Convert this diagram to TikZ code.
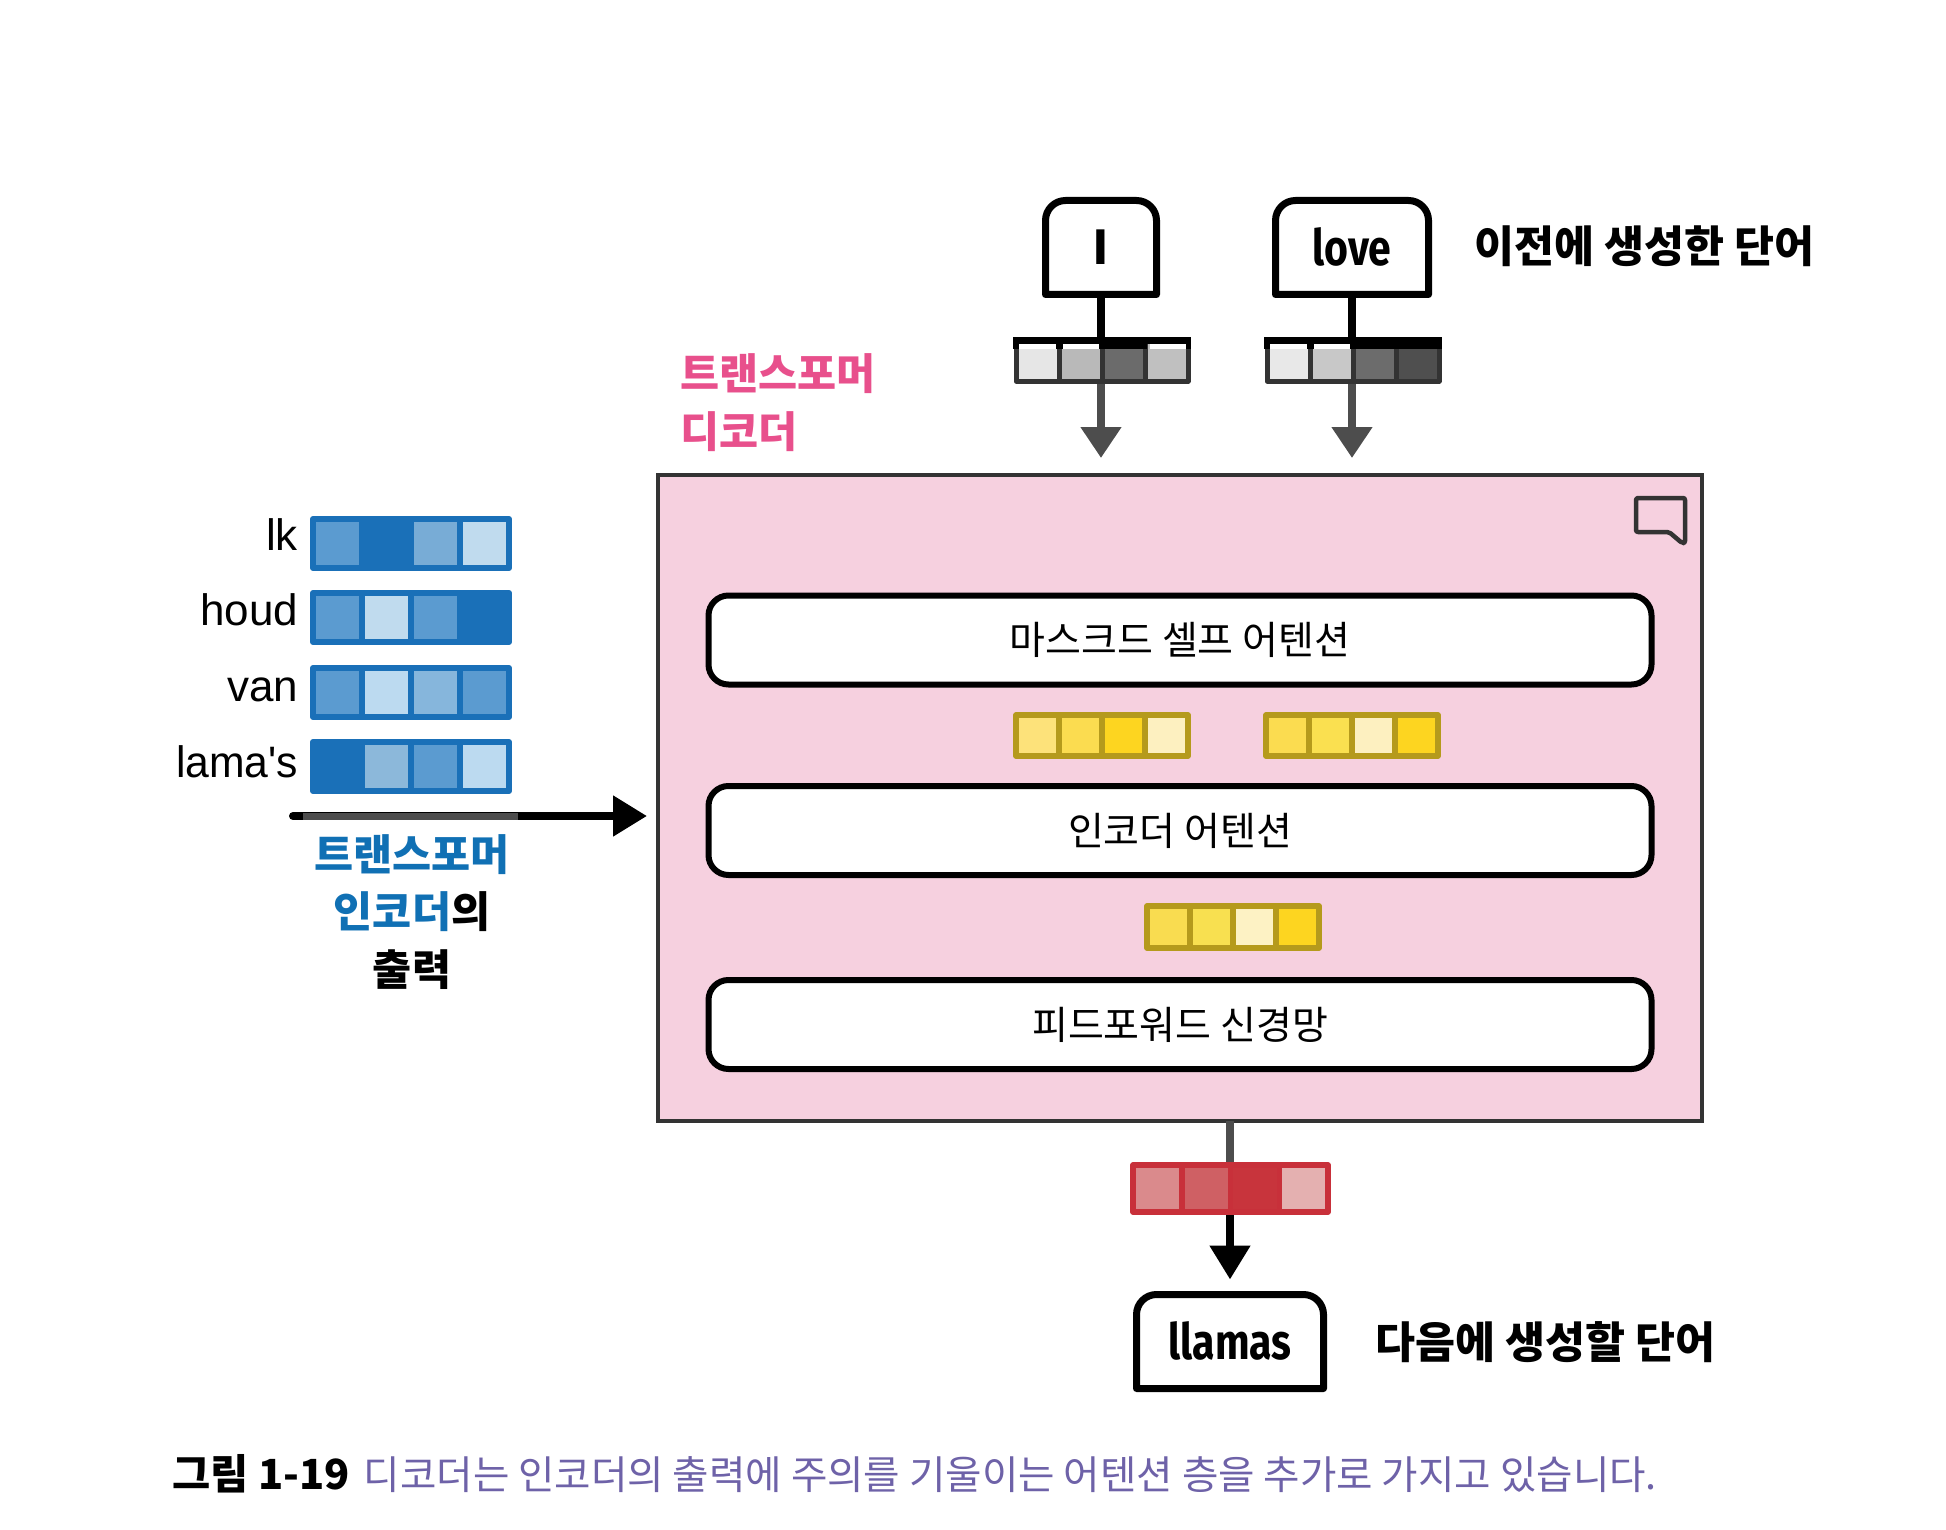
\documentclass[tikz,border=0pt]{standalone}
\usepackage{fontspec}
\usepackage{graphicx}
\usetikzlibrary{arrows.meta}
\setmainfont{Liberation Sans}
\newfontfamily\srcfont{Liberation Sans}
\newfontfamily\kr{Noto Sans CJK KR}
\newfontfamily\firab{Fira Sans}
\newcommand{\fs}[2]{\fontsize{#1pt}{#2pt}\selectfont}
\definecolor{bluebd}{HTML}{1A70B8}
\definecolor{bluetx}{HTML}{1070B4}
\definecolor{pinktx}{HTML}{E8508C}
\definecolor{pinkbg}{HTML}{F6D0DF}
\definecolor{purpletx}{HTML}{6E62A8}
\definecolor{yelbd}{HTML}{B59A1C}
\definecolor{redbd}{HTML}{C8303A}
\definecolor{graybd}{HTML}{333333}
\definecolor{arrowgray}{HTML}{4D4D4D}
\tikzset{
  cellbox/.style={draw,inner sep=0pt,outer sep=0pt,line join=round},
  wordbox/.style={inner sep=0pt,outer sep=0pt},
  wordline/.style={line width=7pt,black,line join=round},
  layerbox/.style={draw=black,fill=white,line width=6pt,rounded corners=20pt,inner sep=0pt,outer sep=0pt,minimum width=943pt,minimum height=89pt,font={\kr\fs{39}{39}}},
  boldlabel/.style={inner sep=0pt,outer sep=0pt,font={\kr\bfseries\fs{43.5}{43.5}}},
  multilabel/.style={inner sep=0pt,outer sep=0pt,font={\kr\bfseries\fs{42.5}{57.5}}},
  srclabel/.style={anchor=base east,inner sep=0pt,outer sep=0pt,font={\srcfont\fs{44}{44}}},
  grayconn/.style={line width=8pt,arrowgray,-{Triangle[width=39pt,length=31pt]}},
  blackconn/.style={line width=8pt,black},
  blackarrow/.style={line width=8pt,black,-{Triangle[width=39pt,length=34pt]}}
}
% name, x1, x2, y1, y2, border, line width, fills a/b/c/d (edges given as centre lines)
\newcommand{\vecrow}[8]{%
  \pgfmathsetmacro{\cw}{(#3-#2)/4}%
  \pgfmathsetmacro{\ch}{#5-#4}%
  \pgfmathsetmacro{\cy}{(#4+#5)/2}%
  \pgfmathsetmacro{\cxa}{#2+0.5*\cw}%
  \pgfmathsetmacro{\cxb}{#2+1.5*\cw}%
  \pgfmathsetmacro{\cxc}{#2+2.5*\cw}%
  \pgfmathsetmacro{\cxd}{#2+3.5*\cw}%
  \vecparse{#1}{#6}{#7}#8\relax
}
\def\vecparse#1#2#3#4/#5/#6/#7\relax{%
  \definecolor{#1fa}{HTML}{#4}\definecolor{#1fb}{HTML}{#5}\definecolor{#1fc}{HTML}{#6}\definecolor{#1fd}{HTML}{#7}%
  \tikzset{thiscell/.style={cellbox,draw=#2,line width=#3pt,minimum width=\cw pt,minimum height=\ch pt}}%
  \node[thiscell,fill=#1fa] (#1a) at (\cxa,\cy) {};%
  \node[thiscell,fill=#1fb] (#1b) at (\cxb,\cy) {};%
  \node[thiscell,fill=#1fc] (#1c) at (\cxc,\cy) {};%
  \node[thiscell,fill=#1fd] (#1d) at (\cxd,\cy) {};%
}
\begin{document}
\begin{tikzpicture}[x=1pt,y=-1pt]
\useasboundingbox (0,0) rectangle (1946,1530);
\fill[white] (0,0) rectangle (1946,1530);

% main decoder panel
\node[draw=graybd,fill=pinkbg,line width=4pt,inner sep=0pt,outer sep=0pt,minimum width=1044pt,minimum height=646pt] (panel) at (1180,798) {};

% word boxes
\node[wordbox,minimum width=111pt,minimum height=94pt] (wi) at (1101,247.5) {};
\node[wordbox,minimum width=153pt,minimum height=94pt] (wlove) at (1352,247.5) {};
\node[wordbox,minimum width=187pt,minimum height=94pt] (wllamas) at (1230,1341.5) {};

\foreach \b in {wi,wlove,wllamas}{
  \draw[wordline,rounded corners=20pt] (\b.south west) -- (\b.north west) -- (\b.north east) [sharp corners] -- (\b.south east) -- cycle;
}
\node[inner sep=0pt,font={\firab\bfseries\fs{50}{50}}] (ti) at (1101,247) {I};
\node[inner sep=0pt,font={\firab\bfseries\fs{50}{50}}] (tl) at (1352,247) {\scalebox{0.82}[1]{love}};
\node[inner sep=0pt,font={\firab\bfseries\fs{50}{50}}] (tll) at (1230,1341) {\scalebox{0.82}[1]{llamas}};

% connectors into the panel
\draw[grayconn,shorten >=17pt] (wi.south) -- (wi.south |- panel.north);
\draw[grayconn,shorten >=17pt] (wlove.south) -- (wlove.south |- panel.north);
\draw[blackconn] (wi.south) -- (1101,345);
\draw[blackconn] (wlove.south) -- (1352,345);

% gray embeddings
\vecrow{vi}{1016}{1188}{341}{381}{graybd}{5}{E6E6E6/B9B9B9/6B6B6B/C0C0C0}
\vecrow{vl}{1267}{1439}{341}{381}{graybd}{5}{E8E8E8/C8C8C8/6C6C6C/4F4F4F}
% darker upper band of the gray embeddings
\fill[black] (1013,337) rectangle (1191,343.5);
\fill[black] (1264,337) rectangle (1442,343.5);
\fill[white] (1018.5,343.5) rectangle (1056,349);
\fill[white] (1062.5,343.5) rectangle (1099,349);
\fill[black] (1099,343.5) rectangle (1147,349);
\fill[white] (1149.5,343.5) rectangle (1185.5,349);
\fill[white] (1269.5,343.5) rectangle (1307,349);
\fill[white] (1313.5,343.5) rectangle (1350,349);
\fill[black] (1350,343.5) rectangle (1442,349);
\fill[black] (1013,343.5) rectangle (1018.5,349);
\fill[black] (1056,343.5) rectangle (1062.5,349);
\fill[black] (1185.5,343.5) rectangle (1191,349);
\fill[black] (1264,343.5) rectangle (1269.5,349);
\fill[black] (1307,343.5) rectangle (1313.5,349);

% source sentence
\vecrow{sa}{313}{509}{519}{568}{bluebd}{6}{5B9BD0/1A70B8/78ACD6/C0DBEE}
\vecrow{sb}{313}{509}{593}{642}{bluebd}{6}{5B9BD0/C0DBEE/5B9BD0/1A70B8}
\vecrow{sc}{313}{509}{668}{717}{bluebd}{6}{5B9BD0/BCDAF0/86B6DC/5B9BD0}
\vecrow{sd}{313}{509}{742}{791}{bluebd}{6}{1A70B8/8CB8DA/5B9BD0/BCDAF0}
\node[srclabel] (l1) at (298,550) {lk};
\node[srclabel] (l2) at (298,625) {houd};
\node[srclabel] (l3) at (298,701) {van};
\node[srclabel] (l4) at (298,777) {\scalebox{0.97}[1]{lama's}};

% encoder output arrow
\coordinate (srcend) at (293,816);
\draw[blackarrow,line cap=round,shorten >=11pt] (srcend) -- (srcend -| panel.west);
\draw[line width=7pt,arrowgray] (303,816) -- (518,816);

\node[multilabel,align=center] (enclabel) at (412,912) {{\color{bluetx}트랜스포머}\\{\color{bluetx}인코더}의\\출력};
\node[multilabel,align=left,text=pinktx,anchor=north west] (declabel) at (680,354) {트랜스포머\\디코더};

\node[boldlabel,anchor=west] (prevlabel) at (1474,246) {이전에 생성한 단어};
\node[boldlabel,anchor=west] (nextlabel) at (1375,1342) {다음에 생성할 단어};

% comment icon
\draw[graybd,line width=4.5pt,line join=round,rounded corners=2pt] (1636,498) -- (1685,498) -- (1685,543) -- (1682,543) -- (1669,532) -- (1636,532) -- cycle;

% decoder layers
\node[layerbox] (mask) at (1180,640) {마스크드 셀프 어텐션};
\node[layerbox] (enc) at (1180,830.5) {인코더 어텐션};
\node[layerbox] (ffn) at (1180,1024.5) {피드포워드 신경망};

\vecrow{ya}{1016}{1188}{715}{756}{yelbd}{5.5}{FDE27A/FBDC50/FDD520/FDF0C0}
\vecrow{yb}{1266}{1438}{715}{756}{yelbd}{5.5}{FBDC50/FAE050/FDF0C0/FDD520}
\vecrow{yc}{1147}{1319}{906}{948}{yelbd}{5.5}{F9DC50/F8E050/FDF2C4/FDD520}

% output
\draw[blackarrow,shorten >=15pt] (wllamas.north |- panel.south) -- (wllamas.north);
\draw[line width=8pt,arrowgray] (wllamas.north |- panel.south) -- (1230,1165);
\vecrow{ra}{1133}{1328}{1165}{1212}{redbd}{5.5}{DA8A8C/CF6064/C8343C/E4B0B0}

% caption
\node[anchor=base west,inner sep=0pt,font={\kr\fs{39.6}{39.6}}] (caption) at (172,1489) {{\bfseries\fs{41.5}{41.5}\color{black}그림 1-19}\hspace{14pt}{\color{purpletx}디코더는 인코더의 출력에 주의를 기울이는 어텐션 층을 추가로 가지고 있습니다.}};
\end{tikzpicture}
\end{document}
